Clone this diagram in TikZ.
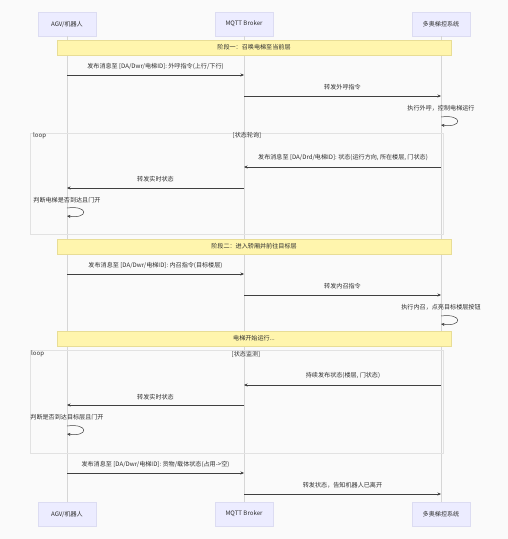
\documentclass[tikz,border=0pt]{standalone}
\usepackage{fontspec}
\setmainfont{Noto Sans CJK SC}
\usetikzlibrary{arrows.meta}
\definecolor{actorfill}{HTML}{ECECFF}
\definecolor{actorline}{HTML}{DCDCF2}
\definecolor{notefill}{HTML}{FFF5AD}
\definecolor{noteline}{HTML}{E8DD96}
\definecolor{lifecol}{HTML}{D6D6D6}
\definecolor{framecol}{HTML}{E2E2E2}
\definecolor{txtcol}{HTML}{2E2E2E}
\begin{document}
\begin{tikzpicture}[x=1pt, y=-1pt, font=\fontsize{6.1}{7}\selectfont, text=txtcol,
    actor/.style={rectangle, draw=actorline, fill=actorfill, minimum width=58pt, minimum height=24pt, inner sep=0pt},
    phase/.style={rectangle, draw=noteline, fill=notefill, minimum width=394pt, minimum height=15pt, inner sep=0pt},
    msg/.style={draw=black!75, line width=0.5pt, -{Stealth[length=3.5pt, width=3pt]}},
    lifeline/.style={draw=lifecol, line width=0.5pt},
    frame/.style={draw=framecol, line width=0.5pt},
    lbl/.style={inner sep=0pt}]
    \fill[white!98!black] (0,0) rectangle (508,539);
    \useasboundingbox (0,0) rectangle (508,539);

    \node[actor] (agv) at (67,24) {AGV/机器人};
    \node[actor] (broker) at (244,24) {MQTT Broker};
    \node[actor] (ctrl) at (441,24) {多奥梯控系统};
    \node[actor] (agvB) at (67,514) {AGV/机器人};
    \node[actor] (brokerB) at (244,514) {MQTT Broker};
    \node[actor] (ctrlB) at (441,514) {多奥梯控系统};

    \draw[lifeline] (agv) -- (agvB);
    \draw[lifeline] (broker) -- (brokerB);
    \draw[lifeline] (ctrl) -- (ctrlB);

    \draw[frame] (30,133) rectangle (443,234);
    \node[lbl, anchor=west] (loopA) at (33,135.5) {loop};
    \node[lbl] (condA) at (247,135.5) {[状态轮询]};
    \draw[frame] (30,350) rectangle (443,453);
    \node[lbl, anchor=west] (loopB) at (31,354) {loop};
    \node[lbl] (condB) at (246,354) {[状态监测]};

    \node[phase] (phaseA) at (254,47.5) {阶段一：召唤电梯至当前层};
    \node[phase] (phaseB) at (254,246.5) {阶段二：进入轿厢并前往目标层};
    \node[phase] (phaseC) at (254,338.5) {电梯开始运行...};

    \node[lbl] (m1) at (155.5,67) {发布消息至 [DA/Dwr/电梯ID]: 外呼指令(上行/下行)};
    \draw[msg] (agv |- 0,75) -- (broker |- 0,75);
    \node[lbl] (m2) at (342.5,87) {转发外呼指令};
    \draw[msg] (broker |- 0,96) -- (ctrl |- 0,96);
    \node[lbl] (m3) at (441,108) {执行外呼，控制电梯运行};
    \draw[msg] (ctrl |- 0,117) .. controls (463,114) and (463,128) .. (ctrl |- 0,125);

    \node[lbl] (m4) at (343,158) {发布消息至 [DA/Drd/电梯ID]: 状态(运行方向, 所在楼层, 门状态)};
    \draw[msg] (ctrl |- 0,167) -- (broker |- 0,167);
    \node[lbl] (m5) at (155.5,179) {转发实时状态};
    \draw[msg] (broker |- 0,188) -- (agv |- 0,188);
    \node[lbl] (m6) at (67,200) {判断电梯是否到达且门开};
    \draw[msg] (agv |- 0,208) .. controls (89,205) and (89,219) .. (agv |- 0,216);

    \node[lbl] (m7) at (155.5,265) {发布消息至 [DA/Dwr/电梯ID]: 内召指令(目标楼层)};
    \draw[msg] (agv |- 0,274) -- (broker |- 0,274);
    \node[lbl] (m8) at (342.5,286) {转发内召指令};
    \draw[msg] (broker |- 0,295) -- (ctrl |- 0,295);
    \node[lbl] (m9) at (441,307) {执行内召，点亮目标楼层按钮};
    \draw[msg] (ctrl |- 0,316) .. controls (463,313) and (463,327) .. (ctrl |- 0,324);

    \node[lbl] (m10) at (343,376) {持续发布状态(楼层, 门状态)};
    \draw[msg] (ctrl |- 0,385) -- (broker |- 0,385);
    \node[lbl] (m11) at (155.5,397) {转发实时状态};
    \draw[msg] (broker |- 0,405) -- (agv |- 0,405);
    \node[lbl] (m12) at (67,417) {判断是否到达目标层且门开};
    \draw[msg] (agv |- 0,426) .. controls (89,423) and (89,437) .. (agv |- 0,434);

    \node[lbl] (m13) at (155.5,464) {发布消息至 [DA/Dwr/电梯ID]: 货物/载体状态(占用->空)};
    \draw[msg] (agv |- 0,473) -- (broker |- 0,473);
    \node[lbl] (m14) at (342.5,485) {转发状态，告知机器人已离开};
    \draw[msg] (broker |- 0,494) -- (ctrl |- 0,494);
\end{tikzpicture}
\end{document}
